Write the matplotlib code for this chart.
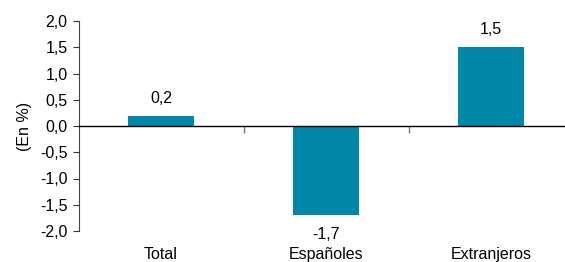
import matplotlib.pyplot as plt
import matplotlib.transforms as mtransforms
import numpy as np

plt.rcParams['font.family'] = ['Liberation Sans', 'DejaVu Sans']

categorias = ["Total", "Españoles", "Extranjeros"]
valores = [0.2, -1.7, 1.5]
etiquetas = ["0,2", "-1,7", "1,5"]
yticks = [-2.0, -1.5, -1.0, -0.5, 0.0, 0.5, 1.0, 1.5, 2.0]

color_barra = "#0087AA"
fs = 11.5

fig = plt.figure(figsize=(5.65, 2.62), dpi=100)
W, H = 565, 262
left, right = 78.5, 573.5
top, bottom = 21, 231
ax = fig.add_axes([left / W, 1 - bottom / H, (right - left) / W, (bottom - top) / H])

x = np.arange(len(categorias))
ax.bar(x, valores, width=0.4, color=color_barra, zorder=2)

ax.set_xlim(-0.5, 2.5)
ax.set_ylim(-2.0, 2.0)
ax.set_yticks(yticks)
ax.set_yticklabels([f"{v:.1f}".replace(".", ",") for v in yticks], fontsize=fs)
ax.tick_params(axis="y", direction="out", length=4, width=0.8, pad=4, colors="#333333", labelcolor="black")

# eje x en el cero con marcas entre categorias
ax.spines["top"].set_visible(False)
ax.spines["right"].set_visible(False)
ax.spines["bottom"].set_position(("data", 0))
ax.spines["left"].set_linewidth(0.8)
ax.spines["left"].set_color("#444444")
ax.spines["bottom"].set_linewidth(1.0)
ax.set_xticks([0.5, 1.5])
ax.set_xticklabels([])
ax.tick_params(axis="x", direction="out", length=5, width=1.0, colors="#777777")

trans = mtransforms.blended_transform_factory(ax.transData, ax.transAxes)
for xi, cat in zip(x, categorias):
    ax.text(xi, -0.112, cat, transform=trans, ha="center", va="center", fontsize=fs)

for xi, v, lab in zip(x, valores, etiquetas):
    dy = 12.5 if v >= 0 else -14
    ax.annotate(lab, (xi, v), xytext=(0, dy), textcoords="offset points",
                ha="center", va="center", fontsize=fs)

ax.set_ylabel("(En %)", fontsize=fs, labelpad=6)

fig.savefig("out.png", dpi=100)
